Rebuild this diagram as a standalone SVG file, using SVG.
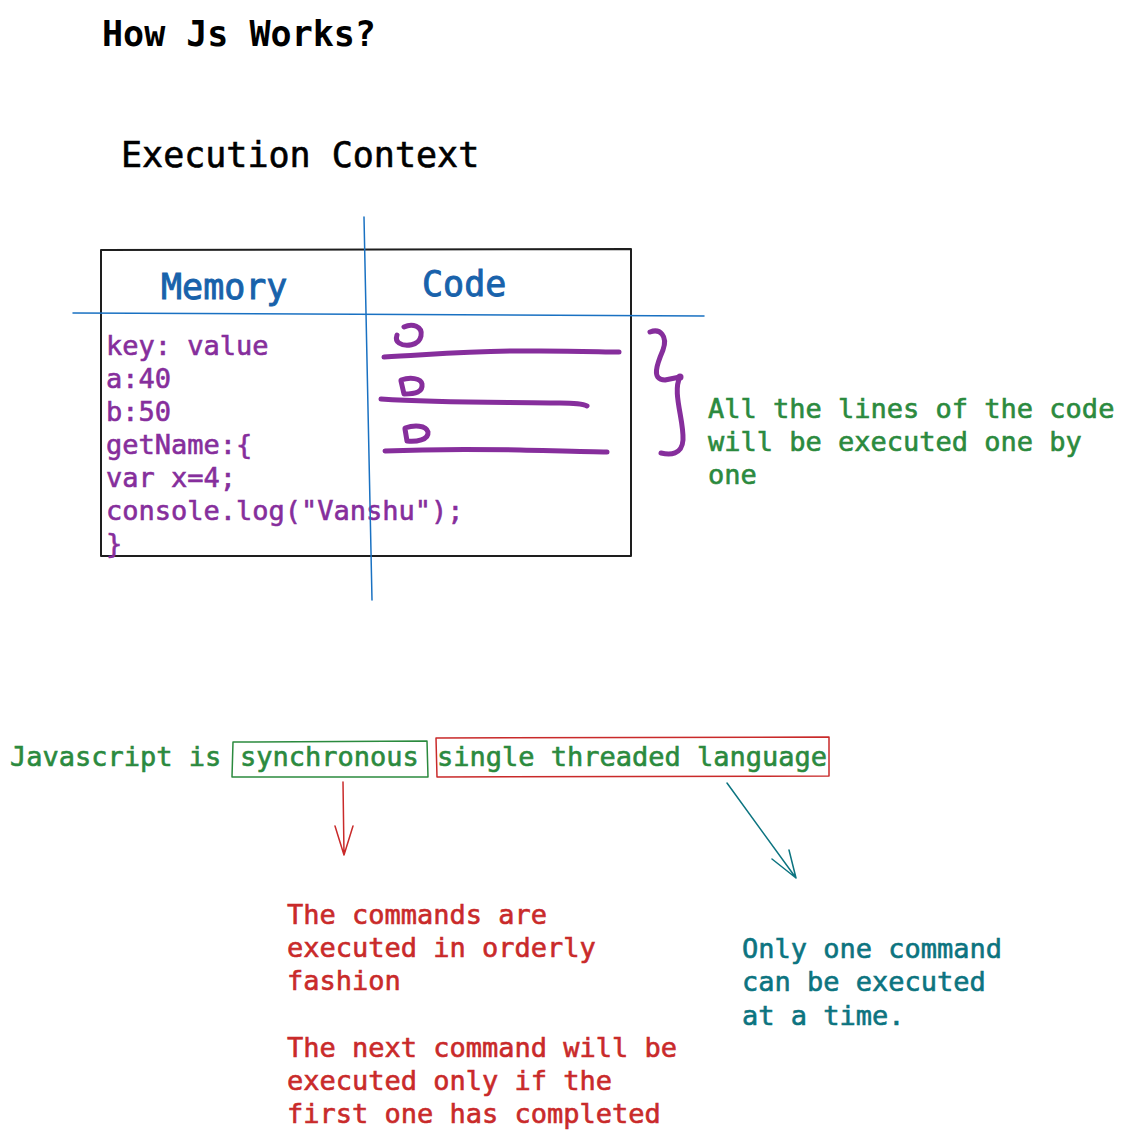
<svg xmlns="http://www.w3.org/2000/svg" width="1127" height="1139" viewBox="0 0 1127 1139">
<style>
text{font-family:"DejaVu Sans Mono","Liberation Mono",monospace;white-space:pre;stroke-width:0.6px}
.t35{font-size:35px}
.t27{font-size:27px}
.blk{fill:#000000;stroke:#000000}
.blu{fill:#1862ab;stroke:#1862ab;stroke-width:0.9px}
.pur{fill:#862e9c;stroke:#862e9c}
.grn{fill:#2b8a3e;stroke:#2b8a3e}
.red{fill:#c92a2a;stroke:#c92a2a}
.teal{fill:#0c7480;stroke:#0c7480}
.ln{fill:none;stroke-linecap:round;stroke-linejoin:round}
.scr{fill:none;stroke:#862e9c;stroke-width:5;stroke-linecap:round;stroke-linejoin:round}
</style>
<rect width="1127" height="1139" fill="#ffffff"/>
<g id="title"><text class="t35 blk" x="102" y="46" font-weight="bold" style="stroke-width:0">How Js Works?</text></g>
<g id="exec-title"><text class="t35 blk" x="121" y="167">Execution Context</text></g>
<g id="context-table">
<path class="ln" stroke="#1e1e1e" stroke-width="2" d="M101,250 L631,249 L631,556 L101,556 Z"/>
<text class="t35 blu" x="161" y="299">Memory</text>
<text class="t35 blu" x="422" y="296">Code</text>
<text class="t27 pur" x="106" y="355">key: value</text>
<text class="t27 pur" x="106" y="388">a:40</text>
<text class="t27 pur" x="106" y="421">b:50</text>
<text class="t27 pur" x="106" y="454">getName:{</text>
<text class="t27 pur" x="106" y="487">var x=4;</text>
<text class="t27 pur" x="106" y="520">console.log("Vanshu");</text>
<text class="t27 pur" x="106" y="553">}</text>
</g>
<g id="code-scribbles">
<path class="scr" d="M404,327 C412,323 423,326 421,336 C419,346 405,347 399,343 C396,341 396,338 397,335"/>
<path class="scr" d="M384,357 C440,354 480,350 540,351 C580,351 605,352 619,352"/>
<path class="scr" d="M401,380 C410,377 421,378 422,384 C423,392 416,394 404,394 L401,381 Z"/>
<path class="scr" d="M381,399 C440,403 500,402 560,403 C575,403 583,404 587,406"/>
<path class="scr" d="M405,428 C414,425 426,425 428,432 C429,440 416,442 407,441 L405,429 Z"/>
<path class="scr" d="M385,451 C430,449 470,449 520,450 C560,451 590,452 607,452"/>
<path class="scr" d="M650,332 C660,328 668,336 663,350 C657,364 651,380 665,380 L680,377 C672,392 684,420 683,440 C682,455 670,455 661,453"/>
<circle cx="680" cy="377" r="3.5" fill="#862e9c"/>
</g>
<g id="note-lines">
<text class="t27 grn" x="708" y="418">All the lines of the code</text>
<text class="t27 grn" x="708" y="451">will be executed one by</text>
<text class="t27 grn" x="708" y="484">one</text>
</g>
<g id="statement">
<text class="t27 grn" x="10" y="766">Javascript is</text>
</g>
<g id="synchronous">
<path class="ln" stroke="#2b8a3e" stroke-width="1.5" d="M233,742 L427,741 L428,777 L232,777 Z"/>
<text class="t27 grn" x="240" y="766">synchronous</text>
</g>
<g id="single-threaded">
<path class="ln" stroke="#c92a2a" stroke-width="1.5" d="M436,738 L829,737 L829,776 L437,777 Z"/>
<text class="t27 grn" x="437" y="766">single threaded language</text>
</g>
<g id="connectors">
<path class="ln" stroke="#c92a2a" stroke-width="1.5" d="M343,782 L344,855 M335,826 L344,855 L353,826"/>
<path class="ln" stroke="#0c7480" stroke-width="1.5" d="M727,783 L796,878 M772,859 L796,878 L789,850"/>
</g>
<g id="sync-note">
<text class="t27 red" x="287" y="924">The commands are</text>
<text class="t27 red" x="287" y="957">executed in orderly</text>
<text class="t27 red" x="287" y="990">fashion</text>
<text class="t27 red" x="287" y="1057">The next command will be</text>
<text class="t27 red" x="287" y="1090">executed only if the</text>
<text class="t27 red" x="287" y="1123">first one has completed</text>
</g>
<g id="thread-note">
<text class="t27 teal" x="742" y="958">Only one command</text>
<text class="t27 teal" x="742" y="991">can be executed</text>
<text class="t27 teal" x="742" y="1025">at a time.</text>
</g>
<g id="axis-lines">
<path class="ln" stroke="#1971c2" stroke-width="1.5" d="M364,217 L372,600"/>
<path class="ln" stroke="#1971c2" stroke-width="1.5" d="M73,313 L704,316"/>
</g>
</svg>
